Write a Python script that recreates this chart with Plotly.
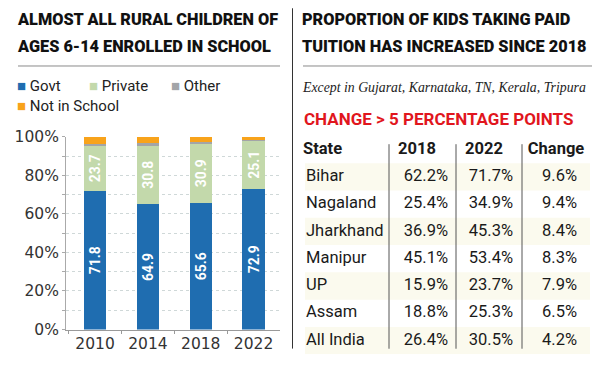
import plotly.graph_objects as go

# ---------------- data ----------------
years = ["2010", "2014", "2018", "2022"]
govt = [71.8, 64.9, 65.6, 72.9]
private = [23.7, 30.8, 30.9, 25.1]
other = [1.0, 1.0, 0.7, 0.4]
not_in_school = [3.5, 3.3, 2.8, 1.6]
series_names = ["Govt", "Private", "Other", "Not in School"]
series_colors = ["#1f6db0", "#c3d9ab", "#a3a5a8", "#f8a31b"]

states = ["Bihar", "Nagaland", "Jharkhand", "Manipur", "UP", "Assam", "All India"]
tuition_2018 = ["62.2%", "25.4%", "36.9%", "45.1%", "15.9%", "18.8%", "26.4%"]
tuition_2022 = ["71.7%", "34.9%", "45.3%", "53.4%", "23.7%", "25.3%", "30.5%"]
tuition_change = ["9.6%", "9.4%", "8.4%", "8.3%", "7.9%", "6.5%", "4.2%"]
table_headers = ["State", "2018", "2022", "Change"]

title_left = ["ALMOST ALL RURAL CHILDREN OF", "AGES 6-14 ENROLLED IN SCHOOL"]
title_right = ["PROPORTION OF KIDS TAKING PAID", "TUITION HAS INCREASED SINCE 2018"]
subtitle_right = "Except in Gujarat, Karnataka, TN, Kerala, Tripura"
red_label = "CHANGE > 5 PERCENTAGE POINTS"

# ---------------- layout helpers ----------------
W, H = 600, 365
# the page shows the figure shifted/compressed; map wanted on-screen px -> figure px
OFF_X, OFF_Y, SCALE_Y = 8.0, 16.7, 0.947


def fx(ox):
    """figure x (px) for a wanted on-screen x"""
    return ox - OFF_X


def fy(oy):
    """figure y (px from top) for a wanted on-screen y"""
    return (oy - OFF_Y) / SCALE_Y


def paper_x(ox):
    return fx(ox) / W


def paper_y(oy):
    return 1 - fy(oy) / H


TITLE_FONT = "Roboto, Liberation Sans, sans-serif"
BODY_FONT = "Roboto, Liberation Sans, sans-serif"
AXIS_FONT = "DejaVu Sans, Roboto, sans-serif"

fig = go.Figure()

stack = [govt, private, other, not_in_school]
labels_show = [True, True, False, False]
for name, vals, col, show in zip(series_names, stack, series_colors, labels_show):
    fig.add_trace(go.Bar(
        x=years, y=vals, name=name, marker=dict(color=col, line=dict(width=0)),
        text=[f"{v:.1f}" for v in vals] if show else None,
        textposition="inside" if show else "none",
        textangle=-90, insidetextanchor="middle",
        insidetextfont=dict(color="white", size=18, family="Roboto", weight="bold"),
        xaxis="x", yaxis="y", showlegend=False, hoverinfo="skip",
    ))

# ---------------- table (x2 in figure px, y2 = row index) ----------------
row_idx = list(range(len(states)))
col_x = {"state": fx(306), "2018": fx(448), "2022": fx(513), "change": fx(577)}
cell_font = dict(family=BODY_FONT, size=16.5, color="#1a1a1a")

fig.add_trace(go.Scatter(x=[col_x["state"]] * len(states), y=row_idx, text=states,
                         mode="text", textposition="middle right", textfont=cell_font,
                         xaxis="x2", yaxis="y2", showlegend=False, hoverinfo="skip"))
for key, vals in (("2018", tuition_2018), ("2022", tuition_2022), ("change", tuition_change)):
    fig.add_trace(go.Scatter(x=[col_x[key]] * len(vals), y=row_idx, text=vals,
                             mode="text", textposition="middle left", textfont=cell_font,
                             xaxis="x2", yaxis="y2", showlegend=False, hoverinfo="skip"))

header_x = [fx(303), fx(417), fx(484), fx(556)]
header_pos = ["middle right", "middle center", "middle center", "middle center"]
fig.add_trace(go.Scatter(x=header_x, y=[-1] * 4, text=table_headers, mode="text",
                         textposition=header_pos,
                         textfont=dict(family=BODY_FONT, size=16.5, color="#1a1a1a", weight="bold"),
                         xaxis="x2", yaxis="y2", showlegend=False, hoverinfo="skip"))

# rows: row 0 centre on screen at y=176, row 6 at y=339
row0, row6 = fy(176), fy(339)
step = (row6 - row0) / 6
tab_top, tab_bot = row0 - 1.5 * step, row6 + 0.5 * step

shapes = []
for i in row_idx:
    if i % 2 == 0:
        shapes.append(dict(type="rect", xref="x2", yref="y2", x0=fx(305), x1=fx(590),
                           y0=i - 0.5, y1=i + 0.5, fillcolor="#fbfaee",
                           line=dict(width=0), layer="below"))
for ox in (389, 456, 522):
    shapes.append(dict(type="line", xref="x2", yref="y2", x0=fx(ox), x1=fx(ox),
                       y0=-1.2, y1=6.3, line=dict(color="#555", width=1)))
shapes.append(dict(type="line", xref="paper", yref="paper", x0=paper_x(18), x1=paper_x(280),
                   y0=paper_y(65.5), y1=paper_y(65.5), line=dict(color="#8a8a8a", width=1)))
shapes.append(dict(type="line", xref="paper", yref="paper", x0=paper_x(303), x1=paper_x(592),
                   y0=paper_y(65.5), y1=paper_y(65.5), line=dict(color="#8a8a8a", width=1)))
shapes.append(dict(type="line", xref="paper", yref="paper", x0=paper_x(292.5), x1=paper_x(292.5),
                   y0=paper_y(8), y1=paper_y(347), line=dict(color="#333", width=1)))

annotations = []
for lines, ox in ((title_left, 18), (title_right, 303)):
    for line, oy in zip(lines, (19, 46)):
        annotations.append(dict(
            text=line, x=paper_x(ox - 3), y=paper_y(oy), xref="paper", yref="paper",
            xanchor="left", yanchor="middle", showarrow=False,
            font=dict(family=TITLE_FONT, size=16.3, color="#111", weight=900)))

annotations.append(dict(text=subtitle_right, x=paper_x(300), y=paper_y(87),
                        xref="paper", yref="paper", xanchor="left", yanchor="middle",
                        showarrow=False,
                        font=dict(family="Liberation Serif, serif", size=13.8, color="#222",
                                  style="italic")))
annotations.append(dict(text=red_label, x=paper_x(302), y=paper_y(118),
                        xref="paper", yref="paper", xanchor="left", yanchor="middle",
                        showarrow=False,
                        font=dict(family=BODY_FONT, size=17, color="#e1161d", weight="bold")))

legend_pos = [(15, 85), (87, 85), (169, 85), (15, 105)]
for (lx, ly), name, col in zip(legend_pos, series_names, series_colors):
    annotations.append(dict(
        text=f"<span style='color:{col}'>■</span> {name}", x=paper_x(lx), y=paper_y(ly),
        xref="paper", yref="paper", xanchor="left", yanchor="middle", showarrow=False,
        font=dict(family=BODY_FONT, size=15, color="#222")))

fig.update_layout(
    width=W, height=H, margin=dict(l=0, r=0, t=0, b=0),
    paper_bgcolor="white", plot_bgcolor="rgba(0,0,0,0)",
    barmode="stack", bargap=0.58,
    shapes=shapes, annotations=annotations,
    xaxis=dict(domain=[paper_x(66), paper_x(280)], range=[-0.55, 3.5], type="category",
               showgrid=False, showline=True, linecolor="#9a9a9a", linewidth=1,
               ticks="outside", ticklen=3, tickcolor="#9a9a9a", tickson="boundaries",
               tickfont=dict(family=AXIS_FONT, size=15.5, color="#333"), fixedrange=True),
    yaxis=dict(domain=[paper_y(328), paper_y(136)], range=[0, 100], dtick=20,
               ticksuffix="%", showgrid=True, gridcolor="#cfd8d8", griddash="dot", gridwidth=1,
               minor=dict(dtick=10, showgrid=True, gridcolor="#cfd8d8", griddash="dot",
                          ticks="outside", ticklen=3, tickcolor="#aaa"),
               showline=True, linecolor="#aaa", linewidth=1, zeroline=False,
               ticks="outside", ticklen=3, tickcolor="#aaa",
               tickfont=dict(family=AXIS_FONT, size=15.5, color="#333"), fixedrange=True),
    xaxis2=dict(domain=[0, 1], range=[0, W], visible=False, fixedrange=True),
    yaxis2=dict(domain=[1 - tab_bot / H, 1 - tab_top / H], range=[6.5, -1.5],
                visible=False, fixedrange=True),
)

fig.write_html("out.html")
